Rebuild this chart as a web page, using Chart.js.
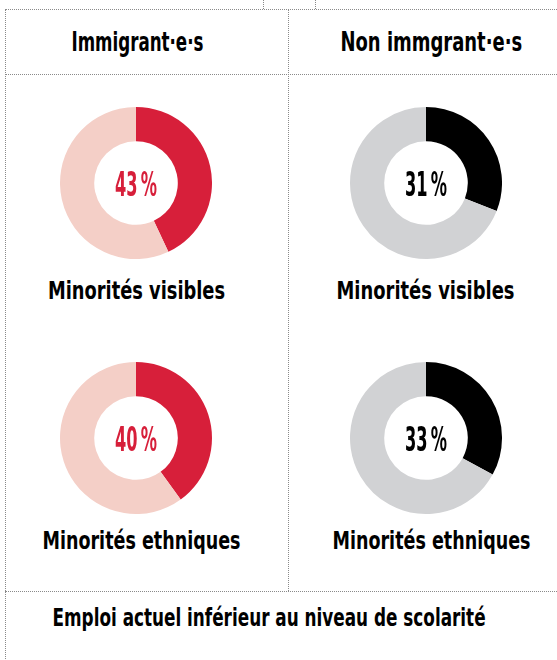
<!DOCTYPE html>
<html>
<head>
<meta charset="utf-8">
<script src="https://cdn.jsdelivr.net/npm/chart.js@4"></script>
<style>
  body { margin: 0; background: #fff; width: 557px; height: 660px; overflow: hidden; position: relative;
         font-family: 'DejaVu Sans Condensed', 'DejaVu Sans', sans-serif; font-weight: bold; color: #000; }
  .line-h { position: absolute; height: 0; border-top: 1px dotted #8a8a8a; }
  .line-v { position: absolute; width: 0; border-left: 1px dotted #8a8a8a; }
  .txt { position: absolute; width: 600px; text-align: center; white-space: nowrap; line-height: 1; }
  .txt span { display: inline-block; transform-origin: 50% 50%; }
  .box { position: absolute; width: 152px; height: 152px; }
</style>
</head>
<body>
  <!-- grid -->
  <div class="line-h" style="left:5px; top:9px; width:560px;"></div>
  <div class="line-h" style="left:5px; top:74px; width:560px;"></div>
  <div class="line-h" style="left:5px; top:591px; width:560px;"></div>
  <div class="line-v" style="left:5px; top:9px; height:660px;"></div>
  <div class="line-v" style="left:288px; top:9px; height:582px;"></div>
  <div class="line-v" style="left:263px; top:0; height:9px;"></div>
  <div class="line-v" style="left:315px; top:0; height:9px;"></div>

  <div class="box" style="left:60px; top:107px;"><canvas id="c0"></canvas></div>
  <div class="box" style="left:350px; top:107px;"><canvas id="c1"></canvas></div>
  <div class="box" style="left:60px; top:362px;"><canvas id="c2"></canvas></div>
  <div class="box" style="left:350px; top:362px;"><canvas id="c3"></canvas></div>

<script>
// share (%) whose current job is below their education level
const groups = ['Immigrant·e·s', 'Non immgrant·e·s'];
const categories = ['Minorités visibles', 'Minorités ethniques'];
const immigrantValues = [43, 40];
const nonImmigrantValues = [31, 33];
const footer = 'Emploi actuel inférieur au niveau de scolarité';

const redMain = '#d71f3a', redLight = '#f4cfc7';
const blackMain = '#000000', greyLight = '#d1d2d4';
const fontStack = "'DejaVu Sans Condensed', 'DejaVu Sans', sans-serif";

// text placed by centre x, baseline y, squeezed to the width seen in the reference
function addText(str, cx, baseline, size, width) {
    const d = document.createElement('div');
    d.className = 'txt';
    d.style.left = (cx - 300) + 'px';
    d.style.top = (baseline - 0.846 * size) + 'px';
    d.style.fontSize = size + 'px';
    const s = document.createElement('span');
    s.textContent = str;
    d.appendChild(s);
    document.body.appendChild(d);
    s.style.transform = 'scaleX(' + (width / s.offsetWidth) + ')';
}

addText(groups[0], 137.5, 51, 26, 132);
addText(groups[1], 431, 51, 26, 182);
addText(categories[0], 136.5, 300, 24.5, 177);
addText(categories[0], 426, 300, 24.5, 178);
addText(categories[1], 142, 550, 24.5, 198);
addText(categories[1], 432, 550, 24.5, 198);
addText(footer, 269.5, 626, 25, 433);

// draws the percentage in the hole
const centerText = {
    id: 'centerText',
    afterDraw(chart, args, opts) {
        const ctx = chart.ctx;
        const arc = chart.getDatasetMeta(0).data[0];
        const str = chart.data.datasets[0].data[0] + '\u2009%';
        ctx.save();
        ctx.font = 'bold 33px ' + fontStack;
        ctx.fillStyle = opts.color;
        ctx.textAlign = 'center';
        ctx.textBaseline = 'alphabetic';
        const w = ctx.measureText(str).width;
        ctx.translate(arc.x, arc.y + 13);
        ctx.scale(42 / w, 1);
        ctx.fillText(str, 0, 0);
        ctx.restore();
    }
};

function drawDonut(id, val, main, light) {
    new Chart(document.getElementById(id), {
        type: 'doughnut',
        data: {
            labels: ['oui', 'non'],
            datasets: [{ data: [val, 100 - val], backgroundColor: [main, light], borderWidth: 0 }]
        },
        options: {
            responsive: true, maintainAspectRatio: false, animation: false,
            cutout: '55%',
            layout: { padding: 0 },
            plugins: { legend: { display: false }, tooltip: { enabled: false }, centerText: { color: main } },
            events: []
        },
        plugins: [centerText]
    });
}

drawDonut('c0', immigrantValues[0], redMain, redLight);
drawDonut('c1', nonImmigrantValues[0], blackMain, greyLight);
drawDonut('c2', immigrantValues[1], redMain, redLight);
drawDonut('c3', nonImmigrantValues[1], blackMain, greyLight);
</script>
</body>
</html>
